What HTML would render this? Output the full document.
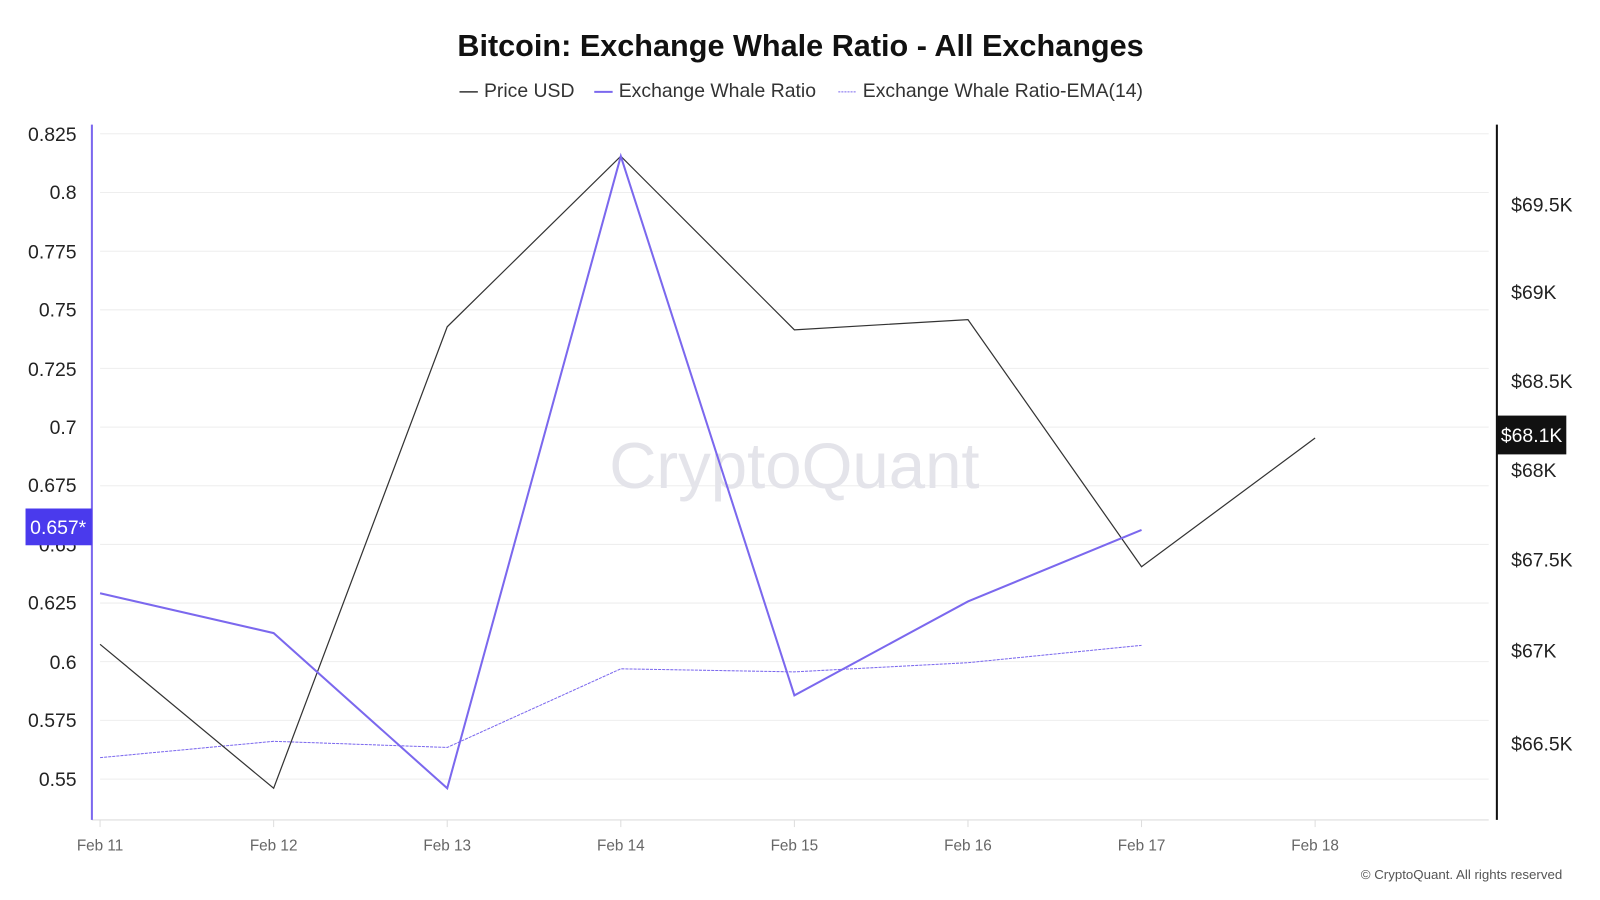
<!DOCTYPE html>
<html><head><meta charset="utf-8"><style>body{margin:0;background:#fff}svg{display:block}</style></head><body>
<svg width="1600" height="900" viewBox="0 0 1567 881.4" xmlns="http://www.w3.org/2000/svg" font-family="Liberation Sans, sans-serif">
<rect width="1567" height="881.4" fill="#fff"/>
<text x="784" y="55" text-anchor="middle" font-size="30" font-weight="bold" fill="#111">Bitcoin: Exchange Whale Ratio - All Exchanges</text>
<g font-size="19" fill="#333">
<line x1="450" y1="90" x2="468" y2="90" stroke="#333" stroke-width="1.5"/><text x="474" y="95">Price USD</text>
<line x1="582" y1="90" x2="600" y2="90" stroke="#7b68ee" stroke-width="2"/><text x="606" y="95">Exchange Whale Ratio</text>
<line x1="821" y1="90" x2="839" y2="90" stroke="#7b68ee" stroke-width="1" stroke-dasharray="2,1"/><text x="845" y="95">Exchange Whale Ratio-EMA(14)</text>
</g>
<g stroke="#eee" stroke-width="1">
<line x1="98" x2="1458" y1="131" y2="131"/><line x1="98" x2="1458" y1="188.5" y2="188.5"/><line x1="98" x2="1458" y1="246" y2="246"/><line x1="98" x2="1458" y1="303.4" y2="303.4"/><line x1="98" x2="1458" y1="360.8" y2="360.8"/><line x1="98" x2="1458" y1="418.3" y2="418.3"/><line x1="98" x2="1458" y1="475.7" y2="475.7"/><line x1="98" x2="1458" y1="533.2" y2="533.2"/><line x1="98" x2="1458" y1="590.6" y2="590.6"/><line x1="98" x2="1458" y1="648" y2="648"/><line x1="98" x2="1458" y1="705.5" y2="705.5"/><line x1="98" x2="1458" y1="763" y2="763"/>
</g>
<line x1="90" y1="803" x2="1458" y2="803" stroke="#ddd"/>
<g stroke="#ddd"><line x1="98" x2="98" y1="803" y2="810"/><line x1="268" x2="268" y1="803" y2="810"/><line x1="438" x2="438" y1="803" y2="810"/><line x1="608" x2="608" y1="803" y2="810"/><line x1="778" x2="778" y1="803" y2="810"/><line x1="948" x2="948" y1="803" y2="810"/><line x1="1118" x2="1118" y1="803" y2="810"/><line x1="1288" x2="1288" y1="803" y2="810"/></g>
<text x="778" y="478" text-anchor="middle" font-size="64" fill="#e4e4ea">CryptoQuant</text>
<line x1="90" y1="122" x2="90" y2="803" stroke="#7b68ee" stroke-width="2"/>
<line x1="1466" y1="122" x2="1466" y2="803" stroke="#111" stroke-width="2"/>
<g font-size="19" fill="#222" text-anchor="end">
<text x="75" y="138">0.825</text><text x="75" y="195">0.8</text><text x="75" y="253">0.775</text><text x="75" y="310">0.75</text><text x="75" y="368">0.725</text><text x="75" y="425">0.7</text><text x="75" y="482">0.675</text><text x="75" y="540">0.65</text><text x="75" y="597">0.625</text><text x="75" y="655">0.6</text><text x="75" y="712">0.575</text><text x="75" y="770">0.55</text>
</g>
<g font-size="19" fill="#222">
<text x="1480" y="207">$69.5K</text><text x="1480" y="293">$69K</text><text x="1480" y="380">$68.5K</text><text x="1480" y="467">$68K</text><text x="1480" y="555">$67.5K</text><text x="1480" y="644">$67K</text><text x="1480" y="735">$66.5K</text>
</g>
<g font-size="15" fill="#666" text-anchor="middle">
<text x="98" y="833">Feb 11</text><text x="268" y="833">Feb 12</text><text x="438" y="833">Feb 13</text><text x="608" y="833">Feb 14</text><text x="778" y="833">Feb 15</text><text x="948" y="833">Feb 16</text><text x="1118" y="833">Feb 17</text><text x="1288" y="833">Feb 18</text>
</g>
<polyline fill="none" stroke="#7b68ee" stroke-width="1" stroke-dasharray="3,1" points="98,742 268,726 438,732 608,655 778,658 948,649 1118,632"/>
<polyline fill="none" stroke="#333" stroke-width="1.2" points="98,631 268,772 438,320 608,153 778,323 948,313 1118,555 1288,429"/>
<polyline fill="none" stroke="#7b68ee" stroke-width="2" points="98,581 268,620 438,772 608,153 778,681 948,589 1118,519"/>
<rect x="25" y="498" width="65" height="36" fill="#4a3aed"/>
<text x="57" y="523" text-anchor="middle" font-size="19" fill="#fff">0.657*</text>
<rect x="1466" y="407" width="68" height="38" fill="#111"/>
<text x="1500" y="433" text-anchor="middle" font-size="19" fill="#fff">$68.1K</text>
<text x="1530" y="861" text-anchor="end" font-size="13" fill="#555">© CryptoQuant. All rights reserved</text>
</svg>
</body></html>
